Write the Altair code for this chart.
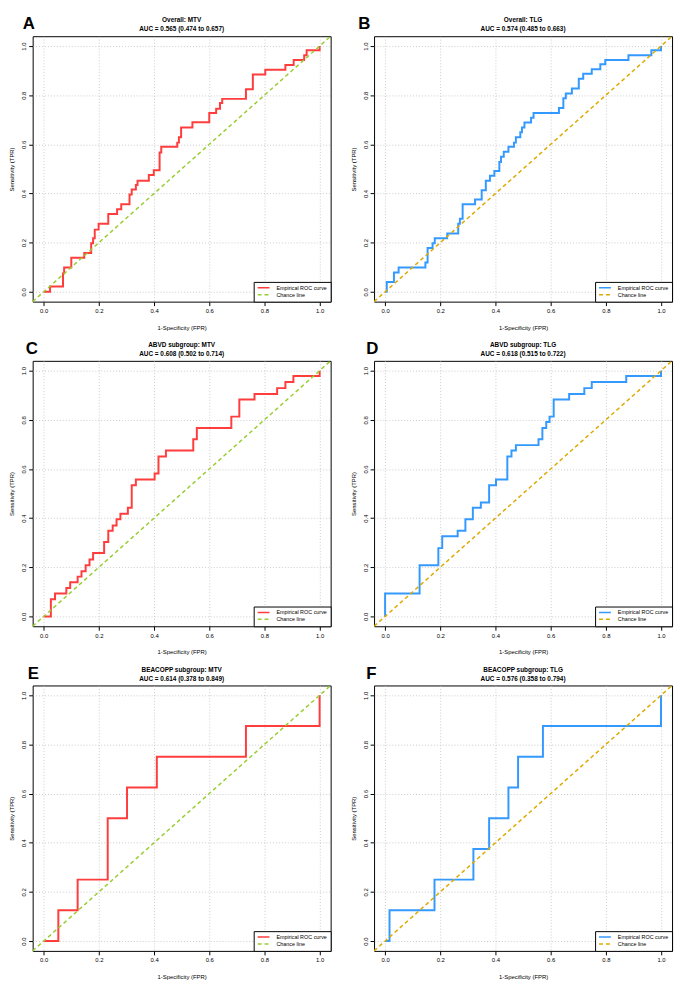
import altair as alt
import pandas as pd

FONT = "Liberation Sans"
SERIES = ["Empirical ROC curve", "Chance line"]
TICKS = [0.0, 0.2, 0.4, 0.6, 0.8, 1.0]
DOM = [-0.04, 1.04]
chance_diag = [-0.04, 1.04]

letters = ["A", "B", "C", "D", "E", "F"]
title_top = ["Overall: MTV", "Overall: TLG", "ABVD subgroup: MTV", "ABVD subgroup: TLG",
             "BEACOPP subgroup: MTV", "BEACOPP subgroup: TLG"]
title_auc = ["AUC = 0.565 (0.474 to 0.657)", "AUC = 0.574 (0.485 to 0.663)",
             "AUC = 0.608 (0.502 to 0.714)", "AUC = 0.618 (0.515 to 0.722)",
             "AUC = 0.614 (0.378 to 0.849)", "AUC = 0.576 (0.358 to 0.794)"]

# ROC vertices (fpr, tpr) at the top of each vertical step (drawn as step-after)
fpr_A = [0, 0.023, 0.070, 0.074, 0.100, 0.147, 0.172, 0.179, 0.185, 0.199, 0.234, 0.266, 0.281,
         0.311, 0.319, 0.334, 0.340, 0.381, 0.399, 0.420, 0.426, 0.484, 0.490, 0.498, 0.539,
         0.600, 0.625, 0.639, 0.647, 0.733, 0.758, 0.803, 0.876, 0.906, 0.944, 0.953, 1.0]
tpr_A = [0, 0.022, 0.075, 0.099, 0.139, 0.158, 0.198, 0.218, 0.253, 0.277, 0.317, 0.336, 0.356,
         0.396, 0.416, 0.435, 0.452, 0.475, 0.495, 0.567, 0.590, 0.607, 0.629, 0.669, 0.690,
         0.728, 0.745, 0.768, 0.785, 0.824, 0.884, 0.904, 0.923, 0.943, 0.963, 0.983, 1.0]

fpr_B = [0, 0.006, 0.032, 0.049, 0.146, 0.154, 0.172, 0.180, 0.225, 0.265, 0.271, 0.281, 0.326,
         0.350, 0.365, 0.380, 0.396, 0.414, 0.420, 0.430, 0.447, 0.467, 0.474, 0.490, 0.496,
         0.505, 0.529, 0.538, 0.630, 0.646, 0.655, 0.677, 0.702, 0.718, 0.749, 0.780, 0.798,
         0.882, 0.965, 1.0]
tpr_B = [0, 0.040, 0.079, 0.099, 0.119, 0.178, 0.198, 0.218, 0.237, 0.277, 0.297, 0.356, 0.376,
         0.413, 0.452, 0.472, 0.492, 0.528, 0.550, 0.570, 0.590, 0.607, 0.629, 0.649, 0.669,
         0.689, 0.708, 0.728, 0.748, 0.788, 0.807, 0.827, 0.867, 0.887, 0.906, 0.926, 0.943,
         0.963, 0.983, 1.0]

fpr_C = [0, 0.026, 0.041, 0.082, 0.096, 0.123, 0.137, 0.152, 0.166, 0.179, 0.219, 0.234, 0.250,
         0.264, 0.278, 0.305, 0.319, 0.334, 0.402, 0.416, 0.443, 0.542, 0.555, 0.680, 0.709,
         0.764, 0.846, 0.876, 0.905, 1.0]
tpr_C = [0, 0.070, 0.093, 0.116, 0.139, 0.162, 0.184, 0.208, 0.232, 0.258, 0.303, 0.349, 0.370,
         0.395, 0.418, 0.442, 0.534, 0.557, 0.582, 0.651, 0.675, 0.721, 0.767, 0.813, 0.883,
         0.905, 0.929, 0.954, 0.978, 1.0]

fpr_D = [0, 0, 0.125, 0.193, 0.207, 0.263, 0.291, 0.318, 0.347, 0.377, 0.402, 0.443, 0.458,
         0.474, 0.556, 0.570, 0.584, 0.596, 0.611, 0.667, 0.722, 0.749, 0.874, 1.0]
tpr_D = [0, 0.093, 0.208, 0.278, 0.326, 0.349, 0.395, 0.442, 0.464, 0.534, 0.557, 0.651, 0.675,
         0.697, 0.721, 0.767, 0.791, 0.813, 0.883, 0.905, 0.929, 0.954, 0.978, 1.0]

fpr_E = [0, 0.053, 0.123, 0.232, 0.302, 0.410, 0.733, 1.0]
tpr_E = [0, 0.125, 0.250, 0.500, 0.625, 0.750, 0.875, 1.0]

fpr_F = [0, 0.016, 0.179, 0.320, 0.377, 0.447, 0.482, 0.572, 1.0]
tpr_F = [0, 0.125, 0.250, 0.375, 0.500, 0.625, 0.750, 0.875, 1.0]

fprs = [fpr_A, fpr_B, fpr_C, fpr_D, fpr_E, fpr_F]
tprs = [tpr_A, tpr_B, tpr_C, tpr_D, tpr_E, tpr_F]

RED, BLUE = "#FF3D3D", "#3399FF"
GREEN, GOLD = "#9ACD32", "#DDAA00"
curve_colors = [RED, BLUE, RED, BLUE, RED, BLUE]
chance_colors = [GREEN, GOLD, GREEN, GOLD, GREEN, GOLD]
letter_dx = [-10, -16, -7, -8, -5, -8]

W, H = 302, 269


def panel(k):
    roc = pd.DataFrame({"fpr": fprs[k], "tpr": tprs[k], "i": list(range(len(fprs[k]))),
                        "series": SERIES[0]})
    ch = pd.DataFrame({"fpr": chance_diag, "tpr": chance_diag, "i": [0, 1], "series": SERIES[1]})
    leg = alt.Legend(title=None, orient="bottom-right", offset=0, fillColor="white",
                     strokeColor="black", padding=3, rowPadding=0, labelFont=FONT,
                     labelFontSize=5.5, labelColor="black", symbolType="M-3,0H3",
                     symbolSize=16, symbolStrokeWidth=1.5, symbolOffset=4, labelOffset=10,
                     labelLimit=200)
    color = alt.Color("series:N", scale=alt.Scale(domain=SERIES,
                      range=[curve_colors[k], chance_colors[k]]), legend=leg)
    dash = alt.StrokeDash("series:N", scale=alt.Scale(domain=SERIES, range=[[1, 0], [4, 3]]),
                          legend=leg)
    x = alt.X("fpr:Q", scale=alt.Scale(domain=DOM, nice=False, zero=False),
              axis=alt.Axis(values=TICKS, format=".1f", title="1-Specificity (FPR)",
                            labelPadding=2, titlePadding=11))
    y = alt.Y("tpr:Q", scale=alt.Scale(domain=DOM, nice=False, zero=False),
              axis=alt.Axis(values=TICKS, format=".1f", title="Sensitivity (TPR)",
                            labelAngle=270, labelAlign="center", labelBaseline="bottom",
                            labelPadding=2, titlePadding=6))
    curve = alt.Chart(roc).mark_line(interpolate="step-after", strokeWidth=2).encode(
        x=x, y=y, color=color, strokeDash=dash, order="i:Q")
    chance = alt.Chart(ch).mark_line(strokeWidth=1.5).encode(
        x=x, y=y, color=color, strokeDash=dash, order="i:Q")
    lab = alt.Chart(pd.DataFrame({"letter": [letters[k]]})).mark_text(
        fontSize=17, fontWeight="bold", font=FONT, align="left", baseline="middle",
        color="black").encode(x=alt.value(letter_dx[k]), y=alt.value(-12), text="letter:N")
    head1 = alt.Chart(pd.DataFrame({"t": [title_top[k]]})).mark_text(
        fontSize=6.5, fontWeight="bold", font=FONT, align="center", baseline="middle",
        color="black").encode(x=alt.value(W / 2), y=alt.value(-16), text="t:N")
    head2 = alt.Chart(pd.DataFrame({"t": [title_auc[k]]})).mark_text(
        fontSize=6.5, fontWeight="bold", font=FONT, align="center", baseline="middle",
        color="black").encode(x=alt.value(W / 2), y=alt.value(-7), text="t:N")
    return alt.layer(curve, chance, lab, head1, head2).properties(width=W, height=H)


rows = []
for r in range(3):
    rows.append(alt.hconcat(panel(2 * r), panel(2 * r + 1), spacing=15).resolve_scale(
        color="independent", strokeDash="independent"))

chart = alt.vconcat(*rows, spacing=8).resolve_scale(
    color="independent", strokeDash="independent").properties(
    padding=0, background="white").configure_view(
    stroke="black", strokeWidth=1).configure_axis(
    labelFont=FONT, labelFontSize=6, labelColor="black", titleFont=FONT, titleFontSize=6,
    titleFontWeight="normal", titleColor="black", tickColor="black", tickSize=4,
    domain=False, grid=True, gridColor="#BEBEBE", gridDash=[1, 2], gridWidth=0.8,
    labelFlush=False, labelOverlap=False)

chart.save("out.html", embed_options={"renderer": "svg", "actions": False})
